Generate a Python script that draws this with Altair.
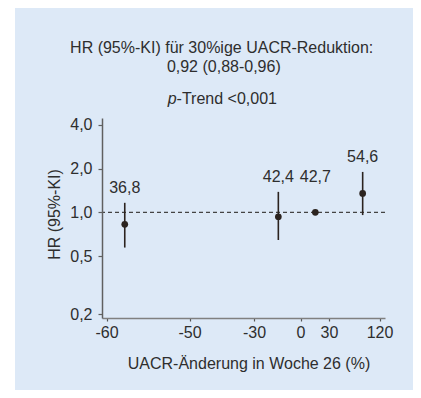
import altair as alt
import pandas as pd

# ---- data ----
groups = ["36,8", "42,4", "42,7", "54,6"]          # event rates shown above the bars
uacr_change = [-57.8, -14.3, 15.6, 90.0]           # UACR change at week 26 (%)
hr = [0.828, 0.933, 1.0, 1.349]                    # hazard ratio
ci_low = [0.573, 0.646, 1.0, 0.958]                # lower 95% CI
ci_high = [1.163, 1.383, 1.0, 1.896]               # upper 95% CI
x_ticks = [-60, -50, -30, 0, 30, 120]
y_ticks = [0.2, 0.5, 1.0, 2.0, 4.0]

title_line1 = "HR (95%-KI) für 30%ige UACR-Reduktion:"
title_line2 = "0,92 (0,88-0,96)"
trend_p = "p"
trend_rest = "-Trend <0,001"
x_title = "UACR-Änderung in Woche 26 (%)"
y_title = "HR (95%-KI)"

# labels sit above the CI bars; the reference group's label shares the row of its neighbour
label_base = list(ci_high)
label_base[2] = ci_high[1]

df = pd.DataFrame({
    "group": groups,
    "change": uacr_change,
    "hr": hr,
    "lo": ci_low,
    "hi": ci_high,
    "lab": label_base,
})

W, H = 283, 200
FONT = "Liberation Sans"
TXT = "#2e2e2e"
INK = "#2b231f"
BG = "#dde9f7"

x_scale = alt.Scale(type="linear",
                    domain=[-60.5, -60, -50, -30, 0, 30, 120, 129.8],
                    range=[0, 4.5, 87.5, 152, 198.5, 227, 277.5, W],
                    nice=False, zero=False)
y_scale = alt.Scale(type="log", domain=[0.188, 4.45], nice=False)

x_axis = alt.Axis(values=x_ticks, labelExpr="'' + datum.value", title=x_title,
                  grid=False, tickSize=3, labelPadding=3, labelFontSize=16,
                  labelFont=FONT, labelColor=TXT, titleFontSize=16, titleFont=FONT,
                  titleColor=TXT, titleFontWeight="normal", titleX=146.5, titleY=45,
                  titleBaseline="middle", titleAlign="center",
                  domainColor="#808080", domainWidth=1.5, tickColor="#555555",
                  tickWidth=1.2, labelFlush=False, labelOverlap=False, zindex=1)
y_axis = alt.Axis(values=y_ticks, labelExpr="replace(format(datum.value, '.1f'), '.', ',')",
                  title=y_title, grid=False, tickSize=4, labelPadding=6, labelFontSize=16,
                  labelFont=FONT, labelColor=TXT, titleFontSize=16, titleFont=FONT,
                  titleColor=TXT, titleFontWeight="normal", titleX=-48, titleY=96,
                  titleAngle=-90, titleBaseline="middle", titleAlign="center",
                  domainColor="#606060", domainWidth=1.5, tickColor="#606060",
                  tickWidth=1.2, labelFlush=False, labelOverlap=False, zindex=1)

one = alt.Data(values=[{}])

bg = alt.Chart(one).mark_rect(color=BG).encode(
    x=alt.value(-87), x2=alt.value(319), y=alt.value(-111), y2=alt.value(290)
)

ref = alt.Chart(one).mark_rule(color="#444444", strokeDash=[4, 3], strokeWidth=1.3).encode(
    y=alt.datum(1.0, scale=y_scale, axis=y_axis)
)

base = alt.Chart(df)

bars = base.mark_rule(color=INK, strokeWidth=1.6).encode(
    x=alt.X("change:Q", scale=x_scale, axis=x_axis),
    y=alt.Y("lo:Q", scale=y_scale, axis=y_axis),
    y2="hi:Q",
)

pts = base.mark_circle(color=INK, size=45, opacity=1).encode(
    x=alt.X("change:Q", scale=x_scale, axis=x_axis),
    y=alt.Y("hr:Q", scale=y_scale, axis=y_axis),
)

labels = base.mark_text(font=FONT, fontSize=16, color=TXT, baseline="middle", dy=-15).encode(
    x=alt.X("change:Q", scale=x_scale, axis=x_axis),
    y=alt.Y("lab:Q", scale=y_scale, axis=y_axis),
    text="group:N",
)

def txt(s, x, y, align="center", style="normal"):
    return alt.Chart(one).mark_text(font=FONT, fontSize=16, color=TXT, align=align,
                                    baseline="middle", fontStyle=style, text=s).encode(
        x=alt.value(x), y=alt.value(y))

t1 = txt(title_line1, 119.7, -69.7)
t2 = txt(title_line2, 121.8, -51.3)
t3 = txt(trend_p, 74.6, -18.7, align="right", style="italic")
t4 = txt(trend_rest, 74.6, -18.7, align="left")

chart = alt.layer(bg, ref, bars, pts, labels, t1, t2, t3, t4).properties(
    width=W, height=H,
    autosize=alt.AutoSizeParams(type="none"),
    padding={"left": 94, "top": 110, "right": 28, "bottom": 72},
    background="white",
).configure_view(stroke=None)

chart.save("out.html", embed_options={"renderer": "svg", "actions": False})
